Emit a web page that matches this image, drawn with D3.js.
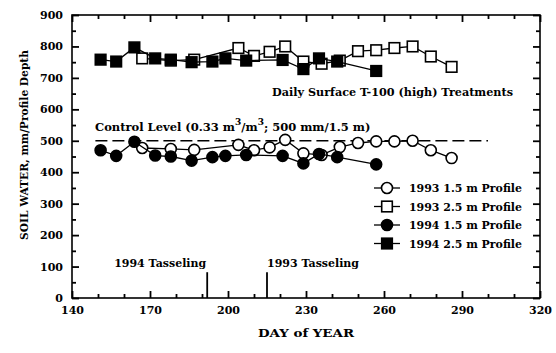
<!DOCTYPE html>
<html>
<head>
<meta charset="utf-8">
<script src="https://cdn.jsdelivr.net/npm/d3@7"></script>
<style>
  body { margin: 0; background: #fff; }
  text { font-family: "DejaVu Serif", "Liberation Serif", serif; font-weight: bold; fill: #000; }
</style>
</head>
<body>
<div id="chart"></div>
<script>
// 1993 profiles
const days1993 = [167, 178, 187, 204, 210, 216, 222, 229, 236, 243, 250, 257, 264, 271, 278, 286];
const water1993_15 = [477, 474, 471, 487, 470, 479, 503, 460, 455, 480, 493, 498, 498, 500, 470, 445];
const water1993_25 = [762, 755, 758, 795, 770, 783, 800, 752, 745, 755, 785, 788, 795, 800, 768, 735];

// 1994 profiles
const days1994 = [151, 157, 164, 172, 178, 186, 194, 199, 207, 221, 229, 235, 242, 257];
const water1994_15 = [470, 452, 497, 453, 450, 437, 448, 452, 455, 452, 428, 458, 448, 425];
const water1994_25 = [758, 752, 797, 762, 758, 750, 752, 762, 755, 757, 728, 762, 752, 722];

const seriesNames = ["1993 1.5 m Profile", "1993 2.5 m Profile", "1994 1.5 m Profile", "1994 2.5 m Profile"];
const tasselDays = [192, 215];
const tasselLabels = ["1994 Tasseling", "1993 Tasseling"];
const controlLevel = 500;

const xMajor = [140, 170, 200, 230, 260, 290, 320];
const yMajor = [0, 100, 200, 300, 400, 500, 600, 700, 800, 900];

const width = 556, height = 353;
const margin = { left: 72, right: 540, top: 15, bottom: 298 };

const svg = d3.select("#chart")
    .append("svg")
        .attr("width", width)
        .attr("height", height);

const x = d3.scaleLinear().domain([140, 320]).range([margin.left, margin.right]);
const y = d3.scaleLinear().domain([0, 900]).range([margin.bottom, margin.top]);

const xMinor = d3.range(140, 321, 10).filter(d => !xMajor.includes(d));
const yMinor = d3.range(0, 901, 50).filter(d => !yMajor.includes(d));

// frame
svg.append("rect")
    .attr("x", margin.left).attr("y", margin.top)
    .attr("width", margin.right - margin.left).attr("height", margin.bottom - margin.top)
    .attr("fill", "none").attr("stroke", "#000").attr("stroke-width", 1.6);

const styleAxis = g => {
    g.select(".domain").remove();
    g.selectAll("line").attr("stroke", "#000").attr("stroke-width", 1.8);
    g.selectAll("text").style("font-size", "11px");
};

// inward ticks, major and minor, on all four sides
svg.append("g").attr("transform", `translate(0,${margin.bottom})`)
    .call(d3.axisBottom(x).tickValues(xMajor).tickSize(-7).tickPadding(8).tickFormat(d3.format("d")))
    .call(styleAxis);
svg.append("g").attr("transform", `translate(0,${margin.bottom})`)
    .call(d3.axisBottom(x).tickValues(xMinor).tickSize(-4).tickFormat(""))
    .call(styleAxis);
svg.append("g").attr("transform", `translate(0,${margin.top})`)
    .call(d3.axisTop(x).tickValues(xMajor).tickSize(-7).tickFormat(""))
    .call(styleAxis);
svg.append("g").attr("transform", `translate(0,${margin.top})`)
    .call(d3.axisTop(x).tickValues(xMinor).tickSize(-4).tickFormat(""))
    .call(styleAxis);

svg.append("g").attr("transform", `translate(${margin.left},0)`)
    .call(d3.axisLeft(y).tickValues(yMajor).tickSize(-7).tickPadding(9).tickFormat(d3.format("d")))
    .call(styleAxis);
svg.append("g").attr("transform", `translate(${margin.left},0)`)
    .call(d3.axisLeft(y).tickValues(yMinor).tickSize(-4).tickFormat(""))
    .call(styleAxis);
svg.append("g").attr("transform", `translate(${margin.right},0)`)
    .call(d3.axisRight(y).tickValues(yMajor).tickSize(-7).tickFormat(""))
    .call(styleAxis);
svg.append("g").attr("transform", `translate(${margin.right},0)`)
    .call(d3.axisRight(y).tickValues(yMinor).tickSize(-4).tickFormat(""))
    .call(styleAxis);

// fix the drawn width of a label so it matches the reference
const fit = (sel, w) => sel.attr("textLength", w).attr("lengthAdjust", "spacingAndGlyphs");

// axis titles
svg.append("text")
    .attr("x", 306)
    .attr("y", 337)
    .attr("text-anchor", "middle")
    .style("font-size", "11px")
    .call(fit, 96)
    .text("DAY of YEAR");

svg.append("text")
    .attr("transform", "rotate(-90)")
    .attr("x", -145)
    .attr("y", 28)
    .attr("text-anchor", "middle")
    .style("font-size", "11px")
    .call(fit, 190)
    .text("SOIL WATER, mm/Profile Depth");

// control level
svg.append("line")
    .attr("x1", x(149)).attr("x2", x(300))
    .attr("y1", y(controlLevel)).attr("y2", y(controlLevel))
    .attr("stroke", "#000").attr("stroke-width", 1.5)
    .attr("stroke-dasharray", "12,5");

const ctl = svg.append("text")
    .attr("x", 95).attr("y", 131)
    .style("font-size", "11.5px");
ctl.append("tspan").text("Control Level (0.33 m");
ctl.append("tspan").attr("dy", -6).style("font-size", "9px").text("3");
ctl.append("tspan").attr("dy", 6).text("/m");
ctl.append("tspan").attr("dy", -6).style("font-size", "9px").text("3");
ctl.append("tspan").attr("dy", 6).text("; 500 mm/1.5 m)");

svg.append("text")
    .attr("x", 272).attr("y", 96)
    .style("font-size", "11px")
    .call(fit, 241)
    .text("Daily Surface T-100 (high) Treatments");

// tasseling markers
tasselDays.forEach((d, i) => {
    svg.append("line")
        .attr("x1", x(d)).attr("x2", x(d))
        .attr("y1", y(0)).attr("y2", y(82))
        .attr("stroke", "#000").attr("stroke-width", 1.8);
    svg.append("text")
        .attr("x", x(d) + (i === 0 ? -93 : 0))
        .attr("y", 267)
        .style("font-size", "11px")
        .call(fit, 92)
        .text(tasselLabels[i]);
});

// series
const series = [
    { days: days1993, vals: water1993_15, shape: "circle", fill: "#fff" },
    { days: days1993, vals: water1993_25, shape: "square", fill: "#fff" },
    { days: days1994, vals: water1994_15, shape: "circle", fill: "#000" },
    { days: days1994, vals: water1994_25, shape: "square", fill: "#000" }
];

const line = d3.line().x(d => x(d[0])).y(d => y(d[1]));

const drawMarker = (g, shape, fill, cx, cy) => {
    if (shape === "circle") {
        g.append("circle")
            .attr("cx", cx).attr("cy", cy).attr("r", 5.5)
            .attr("fill", fill).attr("stroke", "#000").attr("stroke-width", 1.6);
    } else {
        g.append("rect")
            .attr("x", cx - 5.3).attr("y", cy - 5.3)
            .attr("width", 10.6).attr("height", 10.6)
            .attr("fill", fill).attr("stroke", "#000").attr("stroke-width", 1.6);
    }
};

series.forEach(s => {
    const pts = s.days.map((d, i) => [d, s.vals[i]]);
    const g = svg.append("g");
    g.append("path")
        .datum(pts)
        .attr("fill", "none")
        .attr("stroke", "#000")
        .attr("stroke-width", 1.3)
        .attr("d", line);
    pts.forEach(p => drawMarker(g, s.shape, s.fill, x(p[0]), y(p[1])));
});

// legend
const legend = svg.append("g");
seriesNames.forEach((name, i) => {
    const ly = 188 + i * 18.5;
    const s = series[i];
    legend.append("line")
        .attr("x1", 374).attr("x2", 400)
        .attr("y1", ly).attr("y2", ly)
        .attr("stroke", "#000").attr("stroke-width", 1.3);
    drawMarker(legend, s.shape, s.fill, 387, ly);
    legend.append("text")
        .attr("x", 409).attr("y", ly + 4)
        .style("font-size", "11px")
        .call(fit, 113)
        .text(name);
});
</script>
</body>
</html>
